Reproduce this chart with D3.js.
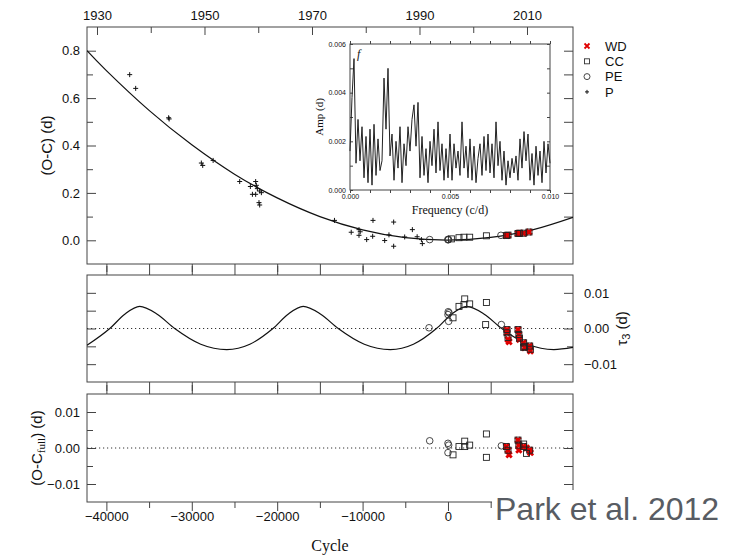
<!DOCTYPE html>
<html>
<head>
<meta charset="utf-8">
<script src="https://cdn.jsdelivr.net/npm/d3@7"></script>
<style>
    body { margin: 0; background: #fff; }
    text { font-family: "Liberation Sans", Arial, sans-serif; fill: #111; }
    .serif { font-family: "Liberation Serif", "DejaVu Serif", serif; }
</style>
</head>
<body>
<div id="chart"></div>
<script>
// ---- values ----
const yearMajor = [1930, 1950, 1970, 1990, 2010];
const yearMinor = [1940, 1960, 1980, 2000];
const cycleMajor = [-40000, -30000, -20000, -10000, 0, 10000];
const cycleMinor = [-35000, -25000, -15000, -5000, 5000];
const cycleLabels = [-40000, -30000, -20000, -10000, 0];
const ocMajor = [0, 0.2, 0.4, 0.6, 0.8];
const ocMinor = [0.1, 0.3, 0.5, 0.7];
const resMajor = [-0.01, 0, 0.01];
const resMinor = [-0.005, 0.005];

// top panel: O-C (d)
const topP = [
    [-37270, 0.699], [-36570, 0.641], [-32710, 0.517], [-32650, 0.512],
    [-28880, 0.326], [-28720, 0.316], [-27500, 0.337],
    [-24390, 0.248], [-23140, 0.227], [-22520, 0.248], [-22440, 0.232],
    [-22320, 0.218], [-22050, 0.208], [-21850, 0.201], [-22900, 0.194],
    [-22520, 0.194], [-22130, 0.159], [-22050, 0.149],
    [-13290, 0.084], [-8780, 0.084], [-6360, 0.077], [-4170, 0.045],
    [-11330, 0.034], [-10420, 0.045], [-10280, 0.036], [-10420, 0.021],
    [-9520, 0.003], [-8820, 0.017], [-7410, -0.001], [-6910, 0.023],
    [-6360, -0.025], [-5070, 0.014], [-3610, 0.015], [-3110, 0.003],
    [-3000, -0.014]
];
const topPE = [[-2140, 0.003], [0, 0.002], [0, 0.004], [60, 0.003], [6200, 0.021]];
const topCC = [
    [400, 0.006], [1290, 0.011], [1870, 0.013], [2540, 0.013], [4500, 0.019],
    [6840, 0.020], [7030, 0.022], [8200, 0.029], [8400, 0.030], [8860, 0.030], [9490, 0.035]
];
const topWD = [[6840, 0.020], [7030, 0.021], [8200, 0.029], [8400, 0.030], [8860, 0.030], [9490, 0.035]];

// quadratic ephemeris curve (O-C)
const quadCycle = [-42270, -40000, -35000, -30000, -25000, -20000, -15000, -10000, -5000, 0, 5000, 10000, 14640];
const quadOC = [0.800, 0.716, 0.548, 0.403, 0.279, 0.179, 0.100, 0.044, 0.011, 0.001, 0.012, 0.045, 0.097];

// middle panel: tau3 (d)
const lttCycle = [
    -42270, -39600, -37850, -36100, -34050, -32000, -28950, -25900, -23200,
    -20500, -18725, -16950, -14900, -12850, -9800, -6750, -4050,
    -1350, 425, 2200, 4250, 6300, 9350, 12400, 14640
];
const lttTau = [
    -0.0047, 0, 0.0040, 0.0062, 0.0040, 0, -0.0044, -0.0059, -0.0044,
    0, 0.0040, 0.0062, 0.0040, 0, -0.0044, -0.0059, -0.0044,
    0, 0.0040, 0.0062, 0.0040, 0, -0.0044, -0.0059, -0.0053
];
const midPE = [[-2220, 0.0002], [0, 0.0039], [80, 0.0020], [120, 0.0044], [30, 0.0047], [6250, 0.0011]];
const midCC = [
    [590, 0.0030], [1290, 0.0062], [1960, 0.0083], [1870, 0.0067], [2540, 0.0069],
    [4500, 0.0073], [4410, 0.0011], [6910, -0.0003], [6910, -0.0012], [7030, -0.0025],
    [8200, -0.0003], [8300, -0.0017], [8370, -0.0027], [8860, -0.0040], [8980, -0.0050],
    [9570, -0.0049], [9650, -0.0058], [8860, -0.0053]
];
const midWD = [
    [6910, -0.0003], [6910, -0.0012], [7030, -0.0031], [7150, -0.0037], [8200, -0.0003],
    [8300, -0.0017], [8370, -0.0031], [8860, -0.0040], [8980, -0.0054], [9570, -0.0049],
    [9650, -0.0063]
];

// bottom panel: O-C full residuals (d)
const botPE = [[-2140, 0.0020], [0, 0.0013], [80, 0.0008], [0, -0.0013], [6250, 0.0006]];
const botCC = [
    [590, -0.0019], [1290, 0.0004], [1960, 0.0019], [1960, 0.0004], [2540, 0.0008],
    [4500, 0.0039], [4500, -0.0026], [6840, 0.0004], [7030, -0.0006], [8200, 0.0022],
    [8300, 0.0008], [8860, 0.0004], [8860, 0.0011], [9200, -0.0015], [9570, -0.0006]
];
const botWD = [
    [6840, 0.0004], [7030, -0.0006], [7150, -0.0019], [8200, 0.0022], [8300, 0.0008],
    [8300, -0.0006], [8860, 0.0004], [9200, 0.0000], [9570, -0.0006], [9650, -0.0013]
];

// inset: amplitude spectrum, amp in units of 0.001 d, frequency step 0.0001 c/d
const specStep = 0.0001;
const specAmp = [
    1.6, 3.8, 5.4, 1.1, 2.9, 1.2, 2.6, 0.5, 2.2, 0.3,
    2.5, 0.2, 2.7, 0.6, 2.1, 0.8, 1.2, 4.6, 2.5, 5.0,
    1.4, 2.3, 0.4, 2.0, 0.9, 2.6, 0.3, 1.9, 1.0, 2.6,
    1.6, 2.9, 3.5, 1.8, 3.6, 0.5, 2.2, 0.6, 1.7, 0.3,
    2.0, 1.0, 2.5, 0.7, 2.8, 0.8, 1.9, 0.4, 1.7, 0.5,
    2.3, 0.4, 1.9, 0.9, 1.6, 0.6, 2.8, 0.9, 1.8, 0.5,
    2.1, 0.4, 1.8, 0.3, 1.3, 1.9, 0.6, 2.2, 0.8, 2.3,
    0.7, 1.9, 0.5, 2.8, 1.0, 2.0, 0.4, 1.6, 0.2, 1.2,
    0.5, 1.3, 0.7, 1.4, 0.4, 2.1, 0.9, 2.4, 1.2, 2.3,
    0.4, 1.5, 0.2, 1.8, 0.6, 1.6, 0.3, 2.0, 0.7, 1.9, 1.1
];
const specYTicks = [0, 2, 4, 6];
const specXTicks = [0, 0.005, 0.01];

const legendItems = ["WD", "CC", "PE", "P"];

// ---- layout ----
const width = 738;
const height = 557;
const left = 87, right = 573;
const panels = {
    top: { y0: 27, y1: 264 },
    mid: { y0: 275, y1: 382 },
    bot: { y0: 394, y1: 502 }
};
const frameColor = "#444";

const svg = d3
    .select("#chart")
    .append("svg")
    .attr("width", width)
    .attr("height", height);

const x = d3.scaleLinear().domain([-42270, 14640]).range([left, right]);
const xYear = d3.scaleLinear().domain([1928.14, 2018.56]).range([left, right]);
const yTop = d3.scaleLinear().domain([-0.1, 0.9]).range([panels.top.y1, panels.top.y0]);
const yMid = d3.scaleLinear().domain([-0.015, 0.015]).range([panels.mid.y1, panels.mid.y0]);
const yBot = d3.scaleLinear().domain([-0.015, 0.015]).range([panels.bot.y1, panels.bot.y0]);

// axis helper: draws one tick set, styled
function ticks(axis, transform, fontSize) {
    const g = svg.append("g").attr("transform", transform).call(axis);
    g.select(".domain").remove();
    g.selectAll(".tick line").attr("stroke", frameColor);
    g.selectAll(".tick text")
        .style("font-size", (fontSize || 13) + "px")
        .attr("fill", "#111");
    return g;
}

function frame(p) {
    svg.append("rect")
        .attr("x", left)
        .attr("y", p.y0)
        .attr("width", right - left)
        .attr("height", p.y1 - p.y0)
        .attr("fill", "none")
        .attr("stroke", frameColor)
        .attr("stroke-width", 1);
}

function cycleTicks(p, labels) {
    ticks(d3.axisTop(x).tickValues(cycleMajor).tickSize(-9).tickFormat(""), `translate(0,${p.y1})`);
    ticks(d3.axisTop(x).tickValues(cycleMinor).tickSize(-6).tickFormat(""), `translate(0,${p.y1})`);
    ticks(d3.axisBottom(x).tickValues(cycleMajor).tickSize(-9).tickFormat(""), `translate(0,${p.y0})`);
    ticks(d3.axisBottom(x).tickValues(cycleMinor).tickSize(-6).tickFormat(""), `translate(0,${p.y0})`);
    if (labels) {
        ticks(d3.axisBottom(x).tickValues(cycleLabels).tickSize(0).tickPadding(10).tickFormat(d3.format("d")),
            `translate(0,${p.y1})`);
    }
}

function drawMarkers(g, data, type, y) {
    const sel = g.selectAll(null).data(data).enter();
    if (type === "P") {
        sel.append("path")
            .attr("transform", (d) => `translate(${x(d[0])},${y(d[1])})`)
            .attr("d", "M-2.5,0H2.5M0,-2.5V2.5")
            .attr("stroke", "#111")
            .attr("stroke-width", 1);
    } else if (type === "PE") {
        sel.append("circle")
            .attr("cx", (d) => x(d[0]))
            .attr("cy", (d) => y(d[1]))
            .attr("r", 3.3)
            .attr("fill", "none")
            .attr("stroke", "#333")
            .attr("stroke-width", 0.9);
    } else if (type === "CC") {
        sel.append("rect")
            .attr("x", (d) => x(d[0]) - 3)
            .attr("y", (d) => y(d[1]) - 3)
            .attr("width", 6)
            .attr("height", 6)
            .attr("fill", "none")
            .attr("stroke", "#222")
            .attr("stroke-width", 0.9);
    } else {
        sel.append("path")
            .attr("transform", (d) => `translate(${x(d[0])},${y(d[1])})`)
            .attr("d", "M-2.7,-2.7L2.7,2.7M-2.7,2.7L2.7,-2.7")
            .attr("stroke", "#e00000")
            .attr("stroke-width", 2.8);
    }
}

// clip paths for curves
Object.entries(panels).forEach(([k, p]) => {
    svg.append("clipPath")
        .attr("id", "clip-" + k)
        .append("rect")
        .attr("x", left)
        .attr("y", p.y0)
        .attr("width", right - left)
        .attr("height", p.y1 - p.y0);
});

// ---------- top panel ----------
const P1 = panels.top;
frame(P1);
ticks(d3.axisLeft(yTop).tickValues(ocMajor).tickSize(-9).tickPadding(7).tickFormat(d3.format(".1f")), `translate(${left},0)`);
ticks(d3.axisLeft(yTop).tickValues(ocMinor).tickSize(-6).tickFormat(""), `translate(${left},0)`);
ticks(d3.axisRight(yTop).tickValues(ocMajor.concat(ocMinor)).tickSize(-9).tickFormat(""), `translate(${right},0)`);
ticks(d3.axisTop(xYear).tickValues(yearMajor).tickSize(-8).tickPadding(7).tickFormat(d3.format("d")), `translate(0,${P1.y0})`);
ticks(d3.axisTop(xYear).tickValues(yearMinor).tickSize(-6).tickFormat(""), `translate(0,${P1.y0})`);
ticks(d3.axisTop(x).tickValues(cycleMajor).tickSize(-8).tickFormat(""), `translate(0,${P1.y1})`);
ticks(d3.axisTop(x).tickValues(cycleMinor).tickSize(-5).tickFormat(""), `translate(0,${P1.y1})`);

const quadLine = d3.line()
    .x((d, i) => x(quadCycle[i]))
    .y((d) => yTop(d))
    .curve(d3.curveNatural);

svg.append("path")
    .datum(quadOC)
    .attr("clip-path", "url(#clip-top)")
    .attr("fill", "none")
    .attr("stroke", "#111")
    .attr("stroke-width", 1.2)
    .attr("d", quadLine);

const gTop = svg.append("g");
drawMarkers(gTop, topP, "P", yTop);
drawMarkers(gTop, topPE, "PE", yTop);
drawMarkers(gTop, topWD, "WD", yTop);
drawMarkers(gTop, topCC, "CC", yTop);

svg.append("text")
    .attr("transform", `translate(52,${(P1.y0 + P1.y1) / 2}) rotate(-90)`)
    .attr("text-anchor", "middle")
    .style("font-size", "15px")
    .text("(O-C) (d)");

// ---------- inset spectrum ----------
const ix0 = 350, ix1 = 550, iy0 = 44, iy1 = 190;
const xf = d3.scaleLinear().domain([0, 0.01]).range([ix0, ix1]);
const ya = d3.scaleLinear().domain([0, 6]).range([iy1, iy0]);

svg.append("rect")
    .attr("x", ix0)
    .attr("y", iy0)
    .attr("width", ix1 - ix0)
    .attr("height", iy1 - iy0)
    .attr("fill", "#fff")
    .attr("stroke", frameColor)
    .attr("stroke-width", 1);

const fMinor = d3.range(0, 0.01001, 0.001);
ticks(d3.axisLeft(ya).tickValues(d3.range(0, 6.01, 1)).tickSize(-3).tickFormat(""), `translate(${ix0},0)`);
ticks(d3.axisRight(ya).tickValues(d3.range(0, 6.01, 1)).tickSize(-3).tickFormat(""), `translate(${ix1},0)`);
ticks(d3.axisTop(xf).tickValues(fMinor).tickSize(-3).tickFormat(""), `translate(0,${iy1})`);
ticks(d3.axisBottom(xf).tickValues(fMinor).tickSize(-3).tickFormat(""), `translate(0,${iy0})`);
ticks(d3.axisLeft(ya).tickValues(specYTicks).tickSize(0).tickPadding(4).tickFormat((d) => (d * 0.001).toFixed(3)),
    `translate(${ix0},0)`, 7);
ticks(d3.axisBottom(xf).tickValues(specXTicks).tickSize(0).tickPadding(4).tickFormat(d3.format(".3f")),
    `translate(0,${iy1})`, 7);

const specLine = d3.line()
    .x((d, i) => xf(i * specStep))
    .y((d) => ya(d));

svg.append("path")
    .datum(specAmp)
    .attr("fill", "none")
    .attr("stroke", "#222")
    .attr("stroke-width", 1)
    .attr("d", specLine);

svg.append("text")
    .attr("class", "serif")
    .attr("transform", `translate(323,${(iy0 + iy1) / 2}) rotate(-90)`)
    .attr("text-anchor", "middle")
    .style("font-size", "11px")
    .text("Amp (d)");

svg.append("text")
    .attr("class", "serif")
    .attr("x", (ix0 + ix1) / 2)
    .attr("y", 214)
    .attr("text-anchor", "middle")
    .style("font-size", "12px")
    .text("Frequency (c/d)");

svg.append("text")
    .attr("class", "serif")
    .attr("x", 357)
    .attr("y", 58)
    .style("font-size", "12px")
    .style("font-style", "italic")
    .text("f");

// ---------- legend ----------
const legend = svg.append("g").attr("transform", "translate(587,46)");
legendItems.forEach((name, i) => {
    const row = legend.append("g").attr("transform", `translate(0,${i * 15.3})`);
    if (name === "WD") {
        row.append("path").attr("d", "M-2.5,-2.5L2.5,2.5M-2.5,2.5L2.5,-2.5")
            .attr("stroke", "#e00000").attr("stroke-width", 1.8);
    } else if (name === "CC") {
        row.append("rect").attr("x", -2.5).attr("y", -2.5).attr("width", 5).attr("height", 5)
            .attr("fill", "none").attr("stroke", "#333").attr("stroke-width", 0.9);
    } else if (name === "PE") {
        row.append("circle").attr("r", 3).attr("fill", "none").attr("stroke", "#333").attr("stroke-width", 0.9);
    } else {
        row.append("path").attr("d", "M-2,0H2M0,-2V2").attr("stroke", "#111").attr("stroke-width", 1);
    }
    row.append("text")
        .attr("x", 18)
        .attr("dy", "0.36em")
        .style("font-size", "13px")
        .text(name);
});

// ---------- middle panel ----------
const P2 = panels.mid;
frame(P2);
cycleTicks(P2, false);
ticks(d3.axisLeft(yMid).tickValues(resMajor.concat(resMinor)).tickSize(-9).tickFormat(""), `translate(${left},0)`);
ticks(d3.axisRight(yMid).tickValues(resMajor).tickSize(-9).tickPadding(11).tickFormat(d3.format(".2f")), `translate(${right},0)`);
ticks(d3.axisRight(yMid).tickValues(resMinor).tickSize(-6).tickFormat(""), `translate(${right},0)`);

svg.append("line")
    .attr("x1", left).attr("x2", right)
    .attr("y1", yMid(0)).attr("y2", yMid(0))
    .attr("stroke", "#333")
    .attr("stroke-dasharray", "1.2,2.8");

const lttLine = d3.line()
    .x((d, i) => x(lttCycle[i]))
    .y((d) => yMid(d))
    .curve(d3.curveMonotoneX);

svg.append("path")
    .datum(lttTau)
    .attr("clip-path", "url(#clip-mid)")
    .attr("fill", "none")
    .attr("stroke", "#111")
    .attr("stroke-width", 1.2)
    .attr("d", lttLine);

const gMid = svg.append("g");
drawMarkers(gMid, midPE, "PE", yMid);
drawMarkers(gMid, midWD, "WD", yMid);
drawMarkers(gMid, midCC, "CC", yMid);

const tauLabel = svg.append("text")
    .attr("transform", `translate(627,${(P2.y0 + P2.y1) / 2}) rotate(-90)`)
    .attr("text-anchor", "middle")
    .style("font-size", "15px");
tauLabel.append("tspan").text("τ");
tauLabel.append("tspan").attr("baseline-shift", "-30%").style("font-size", "11px").text("3");
tauLabel.append("tspan").text("  (d)");

// ---------- bottom panel ----------
const P3 = panels.bot;
frame(P3);
cycleTicks(P3, true);
ticks(d3.axisLeft(yBot).tickValues(resMajor).tickSize(-9).tickPadding(7).tickFormat(d3.format(".2f")), `translate(${left},0)`);
ticks(d3.axisLeft(yBot).tickValues(resMinor).tickSize(-6).tickFormat(""), `translate(${left},0)`);
ticks(d3.axisRight(yBot).tickValues(resMajor.concat(resMinor)).tickSize(-9).tickFormat(""), `translate(${right},0)`);

svg.append("line")
    .attr("x1", left).attr("x2", right)
    .attr("y1", yBot(0)).attr("y2", yBot(0))
    .attr("stroke", "#333")
    .attr("stroke-dasharray", "1.2,2.8");

const gBot = svg.append("g");
drawMarkers(gBot, botPE, "PE", yBot);
drawMarkers(gBot, botWD, "WD", yBot);
drawMarkers(gBot, botCC, "CC", yBot);

const resLabel = svg.append("text")
    .attr("transform", `translate(42,${(P3.y0 + P3.y1) / 2}) rotate(-90)`)
    .attr("text-anchor", "middle")
    .style("font-size", "15px");
resLabel.append("tspan").text("(O-C");
resLabel.append("tspan").attr("class", "serif").attr("baseline-shift", "-30%").style("font-size", "11px").text("full");
resLabel.append("tspan").text(")  (d)");

svg.append("text")
    .attr("class", "serif")
    .attr("x", (left + right) / 2)
    .attr("y", 551)
    .attr("text-anchor", "middle")
    .style("font-size", "16px")
    .text("Cycle");

// slide caption box
svg.append("rect")
    .attr("x", 492)
    .attr("y", 490)
    .attr("width", 246)
    .attr("height", 45)
    .attr("fill", "#fff");

svg.append("text")
    .attr("x", 495)
    .attr("y", 520)
    .style("font-size", "32px")
    .style("fill", "#585c63")
    .text("Park et al. 2012");
</script>
</body>
</html>
